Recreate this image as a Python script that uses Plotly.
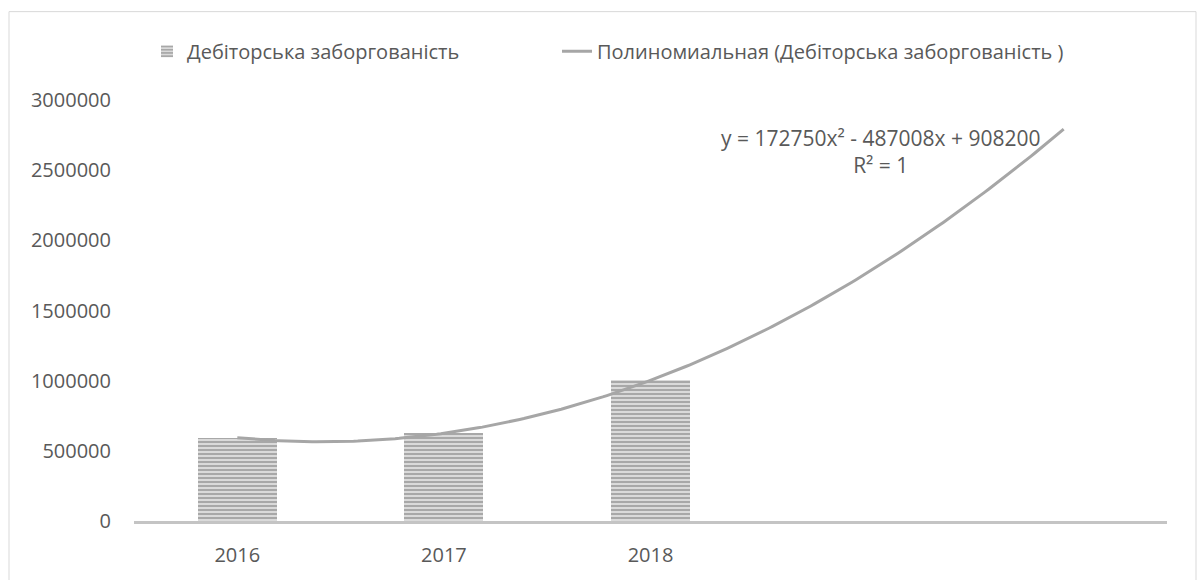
import numpy as np
import plotly.graph_objects as go

# Receivables by year
years = [2016, 2017, 2018]
receivables = [593942, 625184, 1001926]
series_name = "Дебіторська заборгованість"
trend_name = "Полиномиальная (Дебіторська заборгованість )"

# Second-order polynomial trend, x = period index (2016 -> 1)
coef_a, coef_b, coef_c = 172750, -487008, 908200
forecast_periods = 2
y_ticks = [0, 500000, 1000000, 1500000, 2000000, 2500000, 3000000]

W, H = 1200, 580
ML, MR, MT, MB = 134, 33, 100, 56
PW, PH = W - ML - MR, H - MT - MB


def px_x(p):
    return (p - ML) / PW


def px_y(p):
    return (H - MB - p) / PH


first = years[0]
t = np.linspace(1, len(years) + forecast_periods, 200)
trend_x = t + first - 1
trend_y = coef_a * t**2 + coef_b * t + coef_c

FONT = "Open Sans"
FS = 20
TXT = "#595959"

fig = go.Figure()
fig.add_trace(go.Bar(
    x=years, y=receivables, name=series_name, width=0.383,
    legend="legend",
    marker=dict(
        color="#dadada",
        line=dict(width=0),
        pattern=dict(shape="-", fgcolor="#a3a3a3", bgcolor="#dadada",
                     size=4, solidity=0.45, fillmode="replace"),
    ),
))
fig.add_trace(go.Scatter(
    x=trend_x, y=trend_y, mode="lines", name=trend_name,
    legend="legend2",
    line=dict(color="#a6a6a6", width=3),
))

eq_text = f"y = {coef_a}x² - {abs(coef_b)}x + {coef_c}<br>R² = 1"
fig.add_annotation(
    x=px_x(880), y=px_y(152), xref="paper", yref="paper",
    xanchor="center", yanchor="middle",
    text=eq_text, showarrow=False, align="center",
    font=dict(family=FONT, size=21, color=TXT),
)

# chart frame
fig.add_shape(type="rect", xref="paper", yref="paper",
              x0=px_x(9), x1=px_x(1196), y0=px_y(590), y1=px_y(11),
              line=dict(color="#d9d9d9", width=1), fillcolor="rgba(0,0,0,0)",
              layer="below")

legend_common = dict(
    orientation="h", xanchor="left", yanchor="middle", y=px_y(51),
    font=dict(family=FONT, size=FS, color=TXT),
    bgcolor="rgba(0,0,0,0)",
)

fig.update_layout(
    width=W, height=H,
    margin=dict(l=ML, r=MR, t=MT, b=MB),
    paper_bgcolor="white", plot_bgcolor="white",
    font=dict(family=FONT, size=FS, color=TXT),
    showlegend=True,
    legend=dict(x=px_x(147), **legend_common),
    legend2=dict(x=px_x(557), **legend_common),
    bargap=0,
    xaxis=dict(
        range=[first - 0.5, first - 1 + len(years) + forecast_periods + 0.5],
        tickvals=years, ticktext=[str(y) for y in years],
        showgrid=False, zeroline=False,
        showline=True, linecolor="#c4c4c4", linewidth=3,
        ticks="", ticklabelstandoff=14,
        tickfont=dict(family=FONT, size=FS, color=TXT),
    ),
    yaxis=dict(
        range=[0, 3000000], tickvals=y_ticks,
        ticktext=[str(v) for v in y_ticks],
        showgrid=False, zeroline=False, showline=False,
        ticks="", ticklabelstandoff=22,
        tickfont=dict(family=FONT, size=FS, color=TXT),
    ),
)

fig.write_html("out.html")
